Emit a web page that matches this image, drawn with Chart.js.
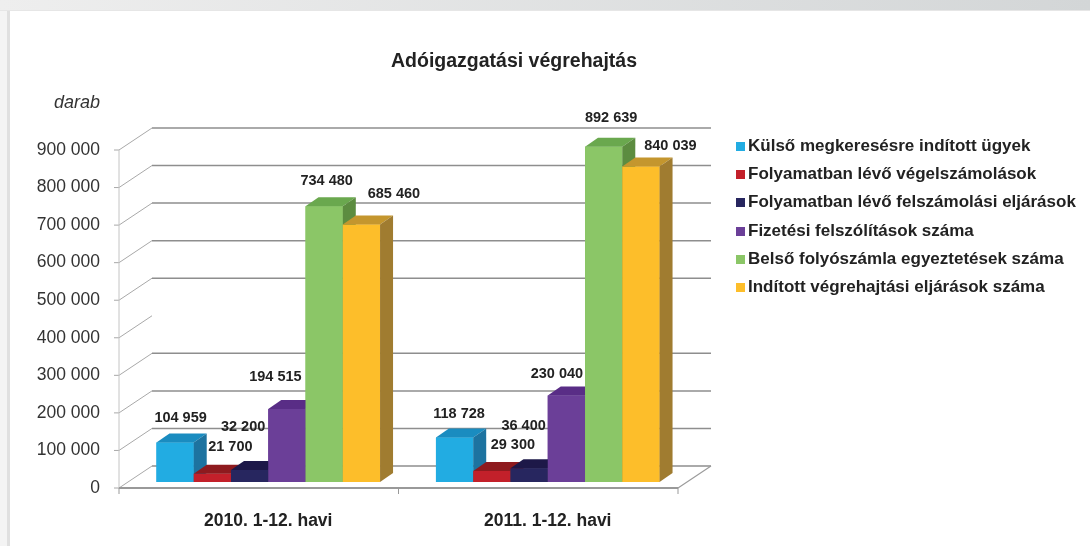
<!DOCTYPE html>
<html lang="hu">
<head>
  <meta charset="UTF-8">
  <title>Adóigazgatási végrehajtás</title>
  <script src="https://cdn.jsdelivr.net/npm/chart.js"></script>
  <style>
    body { margin: 0; width: 1090px; height: 546px; overflow: hidden; background: #fff; font-family: 'Liberation Sans', Arial, sans-serif; color: #222; position: relative; }
    .topband { position: absolute; left: 0; top: 0; width: 1090px; height: 10px; background: linear-gradient(to right, #eeeeee, #d3d6d7); border-bottom: 1px solid #e6e6e6; }
    .leftband { position: absolute; left: 0; top: 11px; bottom: 0; width: 7px; background: #f4f4f4; border-right: 3px solid #e0e0e0; }
    canvas { position: absolute; left: 0; top: 0; }
    .title { position: absolute; left: 0; top: 48px; width: 1028px; text-align: center; font-size: 19.5px; font-weight: bold; line-height: 24px; }
    .unit { position: absolute; right: 990px; top: 92px; font-size: 18px; font-style: italic; line-height: 20px; color: #333; white-space: nowrap; }
    .legend { position: absolute; left: 736px; top: 132px; font-size: 17px; font-weight: bold; line-height: 28.2px; white-space: nowrap; }
    .legend span { display: inline-block; width: 9px; height: 9px; margin-right: 3px; vertical-align: 0px; }
  </style>
</head>
<body>
  <div class="topband"></div>
  <div class="leftband"></div>
  <canvas id="chart" width="1090" height="546"></canvas>
  <div class="title">Adóigazgatási végrehajtás</div>
  <div class="unit">darab</div>
  <div class="legend" id="legend"></div>

  <script>
    const categories = ['2010. 1-12. havi', '2011. 1-12. havi'];
    const seriesNames = [
      'Külső megkeresésre indított ügyek',
      'Folyamatban lévő végelszámolások',
      'Folyamatban lévő felszámolási eljárások',
      'Fizetési felszólítások száma',
      'Belső folyószámla egyeztetések száma',
      'Indított végrehajtási eljárások száma'
    ];
    const kulsoMegkereses = [104959, 118728];
    const vegelszamolasok = [21700, 29300];
    const felszamolasok = [32200, 36400];
    const felszolitasok = [194515, 230040];
    const egyeztetesek = [734480, 892639];
    const vegrehajtasok = [685460, 840039];
    const yMax = 900000;
    const yStep = 100000;

    const frontColors = ['#22ace2', '#c3202a', '#27265f', '#6b3f98', '#8bc667', '#fdbe2a'];
    const topColors = ['#1a8cc0', '#8e1a1e', '#1d1848', '#592d86', '#6aa84e', '#c4962e'];
    const sideColors = ['#1d73a0', '#7a1519', '#171539', '#4a2470', '#5c8c40', '#a07c30'];
    // where Excel placed each value label, relative to the bar top
    const labelNudge = [
      [[5.5, -25], [4.5, -23.5]],
      [[18, -26.5], [21, -25.5]],
      [[-6.5, -42.5], [-5.5, -42.5]],
      [[-11.5, -31.5], [-9.5, -22]],
      [[2.5, -25], [7.5, -28.5]],
      [[32.5, -30.5], [29.5, -20.5]]
    ];

    const FONT = "'Liberation Sans', Arial, sans-serif";
    const DEPTH = { dx: 13, dy: -9 };   // bar depth
    const FRONT = { dx: -9.5, dy: 6 };  // front edge of floor / left wall
    const BACK = { dx: 23.5, dy: -16 }; // back wall
    const missingBackLines = [400000];

    const seriesValues = [kulsoMegkereses, vegelszamolasok, felszamolasok, felszolitasok, egyeztetesek, vegrehajtasok];

    document.getElementById('legend').innerHTML = seriesNames
      .map((n, i) => '<div><span style="background:' + frontColors[i] + '"></span>' + n + '</div>').join('');

    function fmt(v) { return String(v).replace(/\B(?=(\d{3})+(?!\d))/g, ' '); }

    function line(ctx, x1, y1, x2, y2, color, w) {
      ctx.beginPath();
      ctx.moveTo(x1, y1);
      ctx.lineTo(x2, y2);
      ctx.strokeStyle = color;
      ctx.lineWidth = w;
      ctx.stroke();
    }
    function poly(ctx, pts, color) {
      ctx.beginPath();
      ctx.moveTo(pts[0][0], pts[0][1]);
      pts.slice(1).forEach(p => ctx.lineTo(p[0], p[1]));
      ctx.closePath();
      ctx.fillStyle = color;
      ctx.fill();
    }

    const walls = {
      id: 'walls',
      beforeDatasetsDraw(chart) {
        const { ctx, chartArea: a, scales: { x, y } } = chart;
        const L = a.left, R = a.right;
        ctx.save();
        y.ticks.forEach(t => {
          const py = y.getPixelForValue(t.value);
          line(ctx, L + FRONT.dx, py + FRONT.dy, L + BACK.dx, py + BACK.dy, '#a8a8a8', 1);
          line(ctx, L + FRONT.dx - 5, py + FRONT.dy, L + FRONT.dx, py + FRONT.dy, '#a8a8a8', 1);
          if (!missingBackLines.includes(t.value)) {
            line(ctx, L + BACK.dx, py + BACK.dy, R + BACK.dx, py + BACK.dy, '#8e8e8e', 1.5);
          }
        });
        const y0 = y.getPixelForValue(0), yTop = y.getPixelForValue(yMax);
        line(ctx, L + FRONT.dx, yTop + FRONT.dy, L + FRONT.dx, y0 + FRONT.dy, '#c4c4c4', 1);
        line(ctx, R + FRONT.dx, y0 + FRONT.dy, R + BACK.dx, y0 + BACK.dy, '#9a9a9a', 1.2);
        line(ctx, L + FRONT.dx, y0 + FRONT.dy, R + FRONT.dx, y0 + FRONT.dy, '#999', 2);
        for (let i = 0; i <= categories.length; i++) {
          const px = x.getPixelForValue(i - 0.5) + FRONT.dx;
          line(ctx, px, y0 + FRONT.dy, px, y0 + FRONT.dy + 6, '#999', 1);
        }
        ctx.restore();
      }
    };

    const bars3d = {
      id: 'bars3d',
      afterDatasetsDraw(chart) {
        const { ctx } = chart;
        const bars = [];
        chart.data.datasets.forEach((ds, di) => {
          chart.getDatasetMeta(di).data.forEach((el, ci) => {
            bars.push({ di, ci, p: el.getProps(['x', 'y', 'base', 'width'], true) });
          });
        });
        bars.sort((a, b) => a.p.x - b.p.x);
        ctx.save();
        bars.forEach(({ di, p }) => {
          const l = p.x - p.width / 2, r = p.x + p.width / 2;
          poly(ctx, [[l, p.y], [r, p.y], [r, p.base], [l, p.base]], frontColors[di]);
          poly(ctx, [[l, p.y], [l + DEPTH.dx, p.y + DEPTH.dy], [r + DEPTH.dx, p.y + DEPTH.dy], [r, p.y]], topColors[di]);
          poly(ctx, [[r, p.y], [r + DEPTH.dx, p.y + DEPTH.dy], [r + DEPTH.dx, p.base + DEPTH.dy], [r, p.base]], sideColors[di]);
        });
        ctx.font = 'bold 14.5px ' + FONT;
        ctx.fillStyle = '#222';
        ctx.textAlign = 'center';
        ctx.textBaseline = 'middle';
        bars.forEach(({ di, ci, p }) => {
          const n = labelNudge[di][ci];
          ctx.fillText(fmt(seriesValues[di][ci]), p.x + n[0], p.y + n[1]);
        });
        ctx.restore();
      }
    };

    new Chart(document.getElementById('chart'), {
      type: 'bar',
      data: {
        labels: categories,
        datasets: seriesNames.map((name, i) => ({
          label: name,
          data: seriesValues[i],
          backgroundColor: frontColors[i],
          borderWidth: 0,
          categoryPercentage: 0.8,
          barPercentage: 1
        }))
      },
      options: {
        responsive: false,
        animation: false,
        layout: { padding: { left: 0, right: 402.5, top: 144, bottom: 0 } },
        plugins: { legend: { display: false }, tooltip: { enabled: false } },
        scales: {
          x: {
            grid: { display: false, drawTicks: false },
            border: { display: false },
            ticks: { padding: 29, color: '#222', font: { family: FONT, size: 17.5, weight: 'bold' } },
            afterFit: s => { s.height = 64; }
          },
          y: {
            min: 0,
            max: yMax,
            grid: { display: false, drawTicks: false },
            border: { display: false },
            ticks: { stepSize: yStep, padding: 28.5, labelOffset: 6, color: '#333', font: { family: FONT, size: 17.5 }, callback: v => fmt(v) },
            afterFit: s => { s.width = 128.5; }
          }
        }
      },
      plugins: [walls, bars3d]
    });
  </script>
</body>
</html>
